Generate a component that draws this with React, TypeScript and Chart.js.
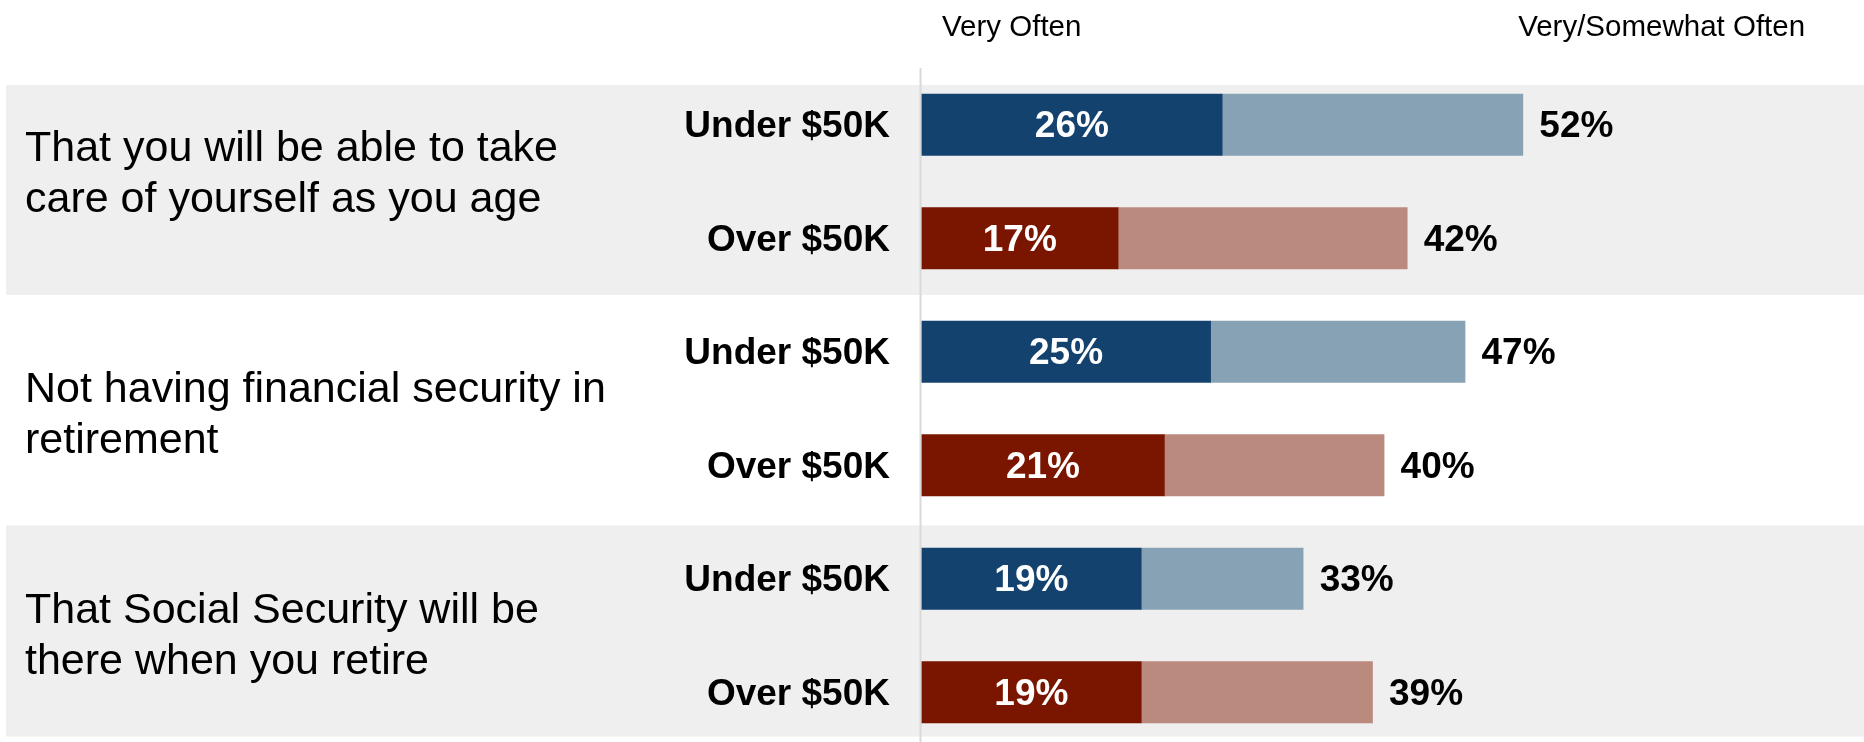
import React, { useEffect, useRef } from "react";
import { Chart, registerables } from "chart.js";

Chart.register(...registerables);

// ---- Data ----
const topicLines: string[][] = [
  ["That you will be able to take", "care of yourself as you age"],
  ["Not having financial security in", "retirement"],
  ["That Social Security will be", "there when you retire"],
];
const incomeLabels = ["Under $50K", "Over $50K", "Under $50K", "Over $50K", "Under $50K", "Over $50K"];
const veryOften = [26, 17, 25, 21, 19, 19];
const veryOrSomewhatOften = [52, 42, 47, 40, 33, 39];
const headerLabels = ["Very Often", "Very/Somewhat Often"];

// ---- Styles / layout ----
const DARK = ["#14426F", "#7A1600"];
const LIGHT = ["#87A2B5", "#BA8A7F"];
const BAND = "#EFEFEF";
const FONT = "'Liberation Sans', Arial, sans-serif";
const BAND_RANGES = [
  [-0.35, 1.5],
  [3.53, 5.39],
];
const TOPIC_OFFSETS = [-20.8, -6.8, -12.8];
const HEADER_VALUES = [7.8, 64];

const overlay = {
  id: "overlay",
  beforeDraw(chart: any) {
    const { ctx, scales } = chart;
    const y = scales.y;
    ctx.save();
    ctx.fillStyle = BAND;
    for (const [a, b] of BAND_RANGES) {
      const y0 = y.getPixelForValue(a);
      const y1 = y.getPixelForValue(b);
      ctx.fillRect(6, y0, chart.width - 6, y1 - y0);
    }
    ctx.restore();
  },
  beforeDatasetsDraw(chart: any) {
    const { ctx, scales, chartArea } = chart;
    const x = scales.x;
    ctx.save();
    ctx.strokeStyle = "#D9D9D9";
    ctx.lineWidth = 2;
    const px = x.getPixelForValue(0) - 1;
    ctx.beginPath();
    ctx.moveTo(px, chartArea.top);
    ctx.lineTo(px, chart.height);
    ctx.stroke();
    ctx.restore();
  },
  afterDatasetsDraw(chart: any) {
    const { ctx, scales } = chart;
    const x = scales.x;
    const y = scales.y;
    ctx.save();
    // headers
    ctx.fillStyle = "#000";
    ctx.font = `29.5px ${FONT}`;
    ctx.textAlign = "center";
    ctx.textBaseline = "alphabetic";
    headerLabels.forEach((t, i) => {
      ctx.fillText(t, x.getPixelForValue(HEADER_VALUES[i]), 35.5);
    });
    // topics
    ctx.font = `43px ${FONT}`;
    ctx.textAlign = "left";
    topicLines.forEach((lines, g) => {
      const cy = y.getPixelForValue(g * 2 + 0.5) + TOPIC_OFFSETS[g];
      lines.forEach((line, k) => {
        ctx.fillText(line, 25, cy + k * 51.5);
      });
    });
    // row labels
    ctx.font = `bold 37px ${FONT}`;
    const x0 = x.getPixelForValue(0);
    incomeLabels.forEach((t, i) => {
      const cy = y.getPixelForValue(i) + 12.5;
      ctx.textAlign = "right";
      ctx.fillStyle = "#000";
      ctx.fillText(t, x0 - 31.5, cy);
      // inner value
      ctx.textAlign = "center";
      ctx.fillStyle = "#fff";
      const xm = (x0 + x.getPixelForValue(veryOften[i])) / 2;
      ctx.fillText(`${veryOften[i]}%`, xm, cy);
      // total value
      ctx.textAlign = "left";
      ctx.fillStyle = "#000";
      ctx.fillText(`${veryOrSomewhatOften[i]}%`, x.getPixelForValue(veryOrSomewhatOften[i]) + 16.5, cy);
    });
    ctx.restore();
  },
};

export default function App() {
  const ref = useRef<HTMLCanvasElement | null>(null);

  useEffect(() => {
    document.body.style.margin = "0";
    document.body.style.overflow = "hidden";
    const canvas = ref.current;
    if (!canvas) return;
    const darkColors = veryOften.map((_, i) => DARK[i % 2]);
    const lightColors = veryOften.map((_, i) => LIGHT[i % 2]);
    const chart = new Chart(canvas, {
      type: "bar",
      data: {
        datasets: [
          {
            label: "Very Often",
            data: veryOften.map((v, i) => ({ x: v, y: i })),
            backgroundColor: darkColors,
            barThickness: 61.5,
          },
          {
            label: "Somewhat Often",
            data: veryOrSomewhatOften.map((v, i) => ({ x: v - veryOften[i], y: i })),
            backgroundColor: lightColors,
            barThickness: 61.5,
          },
        ],
      },
      options: {
        indexAxis: "y",
        responsive: false,
        animation: false,
        devicePixelRatio: 1,
        layout: { padding: { left: 921.5, top: 68, right: 0, bottom: 0 } },
        plugins: { legend: { display: false }, tooltip: { enabled: false } },
        scales: {
          x: { type: "linear", stacked: true, min: 0, max: 81.5, display: false, offset: false },
          y: { type: "linear", stacked: true, min: -0.5, max: 5.438, reverse: true, display: false, offset: false },
        },
      } as any,
      plugins: [overlay],
    });
    return () => chart.destroy();
  }, []);

  return <canvas ref={ref} width={1864} height={742} style={{ display: "block" }} />;
}
